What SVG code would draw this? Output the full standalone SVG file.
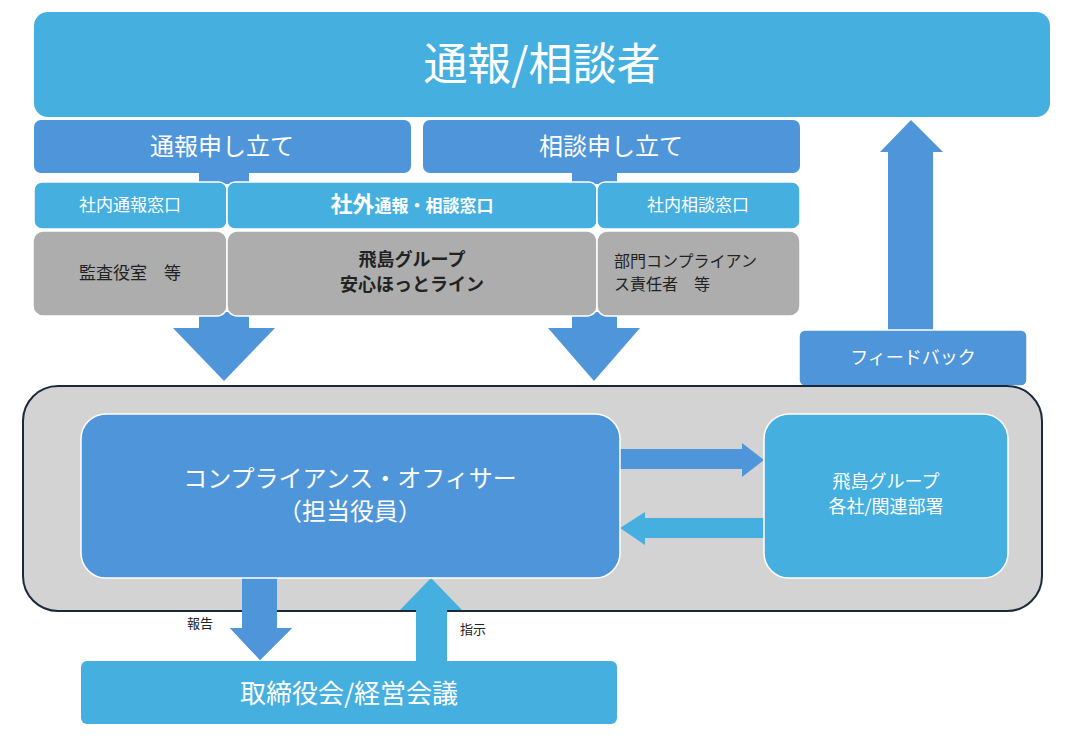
<svg xmlns="http://www.w3.org/2000/svg" width="1077" height="743" viewBox="0 0 1077 743">
<style>
text{font-family:"Noto Sans CJK JP","Noto Sans",sans-serif;text-anchor:middle}
.lb{fill:#45AFE0}.db{fill:#4F95D9}.gr{fill:#ADADAD}
.w{fill:#fff}.k{fill:#222}
.s{stroke:#fff;stroke-width:1.5}
</style>
<rect width="1077" height="743" fill="#fff"/>
<g id="reporter"><rect class="lb" x="34" y="12" width="1016" height="105" rx="14"/><text class="w" x="542" y="80" font-size="44">通報/相談者</text></g>
<g id="connectors">
<rect class="db" x="199" y="170" width="50" height="14"/>
<rect class="db" x="572" y="170" width="45" height="14"/>
<polygon class="db" points="199,312 249,312 249,328 275,328 224,381 173,328 199,328"/>
<polygon class="db" points="572,312 617,312 617,328 640,328 594,381 548,328 572,328"/>
<polygon class="db" points="888,332 933,332 933,152 943,152 911,120 880,152 888,152"/>
<polygon class="db" points="620,449 742,449 742,443 764,460 742,477 742,469 620,469"/>
<polygon class="lb" points="764,518 645,518 645,512 620,528 645,545 645,538 764,538"/>
<polygon class="db" points="242,576 277,576 277,628 292,628 260,660 230,628 242,628"/>
<polygon class="lb" points="416,662 447,662 447,610 462,610 431,578 400,610 416,610"/>
<text class="k" x="676" y="438" font-size="13">調査・指示</text>
<text class="k" x="708" y="563" font-size="13">相談・報告</text>
<text class="k" x="200" y="628" font-size="13">報告</text>
<text class="k" x="473" y="634" font-size="13">指示</text>
</g>
<g id="report-req"><rect class="db" x="34" y="120" width="377" height="53" rx="7"/><text class="w" x="222" y="155" font-size="24">通報申し立て</text></g>
<g id="consult-req"><rect class="db" x="423" y="120" width="377" height="53" rx="7"/><text class="w" x="611" y="155" font-size="24">相談申し立て</text></g>
<g id="internal-report"><rect class="lb s" x="34" y="182" width="193" height="47" rx="8"/><text class="w" x="130" y="211" font-size="17">社内通報窓口</text></g>
<g id="external"><rect class="lb s" x="227" y="182" width="370" height="47" rx="8"/><text class="w" x="412" y="212" font-weight="bold"><tspan font-size="22">社外</tspan><tspan font-size="17">通報・相談窓口</tspan></text></g>
<g id="internal-consult"><rect class="lb s" x="597" y="182" width="203" height="47" rx="8"/><text class="w" x="698" y="211" font-size="17">社内相談窓口</text></g>
<g id="audit"><rect class="gr s" x="33" y="231" width="194" height="85" rx="10"/><text class="k" x="130" y="279" font-size="17">監査役室　等</text></g>
<g id="hotline"><rect class="gr s" x="227" y="231" width="370" height="85" rx="10"/><text class="k" x="412" y="266" font-size="18" font-weight="bold">飛島グループ</text><text class="k" x="412" y="291" font-size="18" font-weight="bold">安心ほっとライン</text></g>
<g id="dept"><rect class="gr s" x="597" y="231" width="203" height="85" rx="10"/><text class="k" x="614" y="267" font-size="16" style="text-anchor:start">部門コンプライアン</text><text class="k" x="614" y="290" font-size="16" style="text-anchor:start">ス責任者　等</text></g>
<g id="feedback"><rect class="db s" x="799" y="330" width="228" height="56" rx="6"/><text class="w" x="913" y="364" font-size="18">フィードバック</text></g>
<g id="container"><rect x="23" y="386" width="1019" height="225" rx="35" fill="#D3D3D3" stroke="#1B2A3A" stroke-width="2"/></g>
<g id="connectors2">
<polygon class="db" points="620,449 742,449 742,443 764,460 742,477 742,469 620,469"/>
<polygon class="lb" points="764,518 645,518 645,512 620,528 645,545 645,538 764,538"/>
<polygon class="db" points="242,576 277,576 277,628 292,628 260,660 230,628 242,628"/>
<polygon class="lb" points="416,662 447,662 447,610 462,610 431,578 400,610 416,610"/>
</g>
<g id="officer"><rect class="db s" x="81" y="414" width="539" height="164" rx="25"/><text class="w" x="350" y="487" font-size="24">コンプライアンス・オフィサー</text><text class="w" x="350" y="520" font-size="24">（担当役員）</text></g>
<g id="group"><rect class="lb s" x="764" y="414" width="244" height="164" rx="25"/><text class="w" x="886" y="488" font-size="18">飛島グループ</text><text class="w" x="886" y="513" font-size="18">各社/関連部署</text></g>
<g id="board"><rect class="lb" x="81" y="661" width="536" height="63" rx="6"/><text class="w" x="349" y="703" font-size="26">取締役会/経営会議</text></g>
</svg>
